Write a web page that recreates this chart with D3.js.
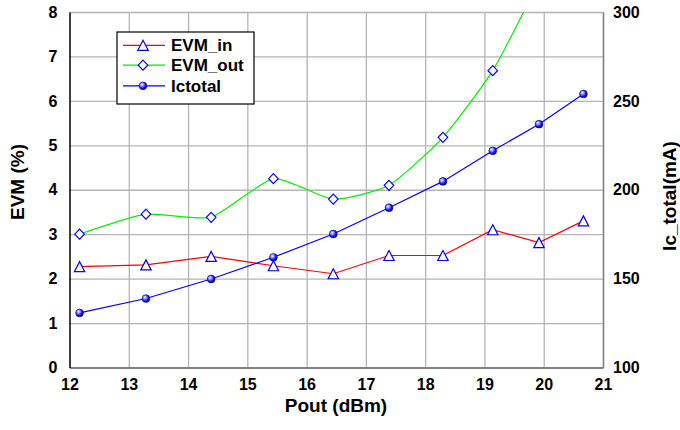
<!DOCTYPE html>
<html><head><meta charset="utf-8">
<script src="https://cdn.jsdelivr.net/npm/d3@7"></script>
<style>
body{margin:0;background:#fff}
svg{display:block}
text{font-family:"Liberation Sans",Arial,Helvetica,sans-serif;font-weight:bold;fill:#000}
</style>
</head><body>
<svg id="c" width="680" height="430"></svg>
<script>
// ---- data ----
const pout    = [12.17, 13.29, 14.39, 15.44, 16.45, 17.39, 18.30, 19.14, 19.92, 20.67];
const evmIn   = [2.27, 2.31, 2.50, 2.29, 2.11, 2.52, 2.52, 3.10, 2.81, 3.30];
const evmOut  = [3.00, 3.45, 3.38, 4.25, 3.79, 4.10, 5.18, 6.68, 8.70, 11.00];
const icTotal = [130.7, 138.8, 149.8, 162.0, 175.1, 189.9, 204.7, 221.9, 236.9, 253.9];
const xTicks  = [12, 13, 14, 15, 16, 17, 18, 19, 20, 21];
const yTicks  = [0, 1, 2, 3, 4, 5, 6, 7, 8];
const y2Ticks = [100, 150, 200, 250, 300];
const seriesNames = ["EVM_in", "EVM_out", "Ictotal"];

// ---- layout ----
const L = 69.5, R = 603, T = 12, B = 367.5;
const svg = d3.select("#c");
const x  = d3.scaleLinear().domain([12, 21]).range([L, R]);
const y  = d3.scaleLinear().domain([0, 8]).range([B, T]);
const y2 = d3.scaleLinear().domain([100, 300]).range([B, T]);

const defs = svg.append("defs");
defs.append("clipPath").attr("id", "clip")
  .append("rect").attr("x", L).attr("y", T).attr("width", R - L).attr("height", B - T);
const grad = defs.append("radialGradient").attr("id", "ball")
  .attr("cx", "40%").attr("cy", "40%").attr("r", "60%").attr("fx", "35%").attr("fy", "32%");
grad.append("stop").attr("offset", "0%").attr("stop-color", "#ffffff");
grad.append("stop").attr("offset", "30%").attr("stop-color", "#a0a0ff");
grad.append("stop").attr("offset", "70%").attr("stop-color", "#1818f0");
grad.append("stop").attr("offset", "100%").attr("stop-color", "#0000a0");

// ---- gridlines ----
const gridColor = "#b4b4b4";
svg.append("g").attr("transform", `translate(0,${B})`)
  .call(d3.axisBottom(x).tickValues(xTicks.slice(1)).tickSize(-(B - T)).tickFormat(""))
  .call(g => { g.select(".domain").remove(); g.selectAll("line").attr("stroke", gridColor).attr("stroke-width", 1.3); });
svg.append("g").attr("transform", `translate(${L},0)`)
  .call(d3.axisLeft(y).tickValues(yTicks.slice(1)).tickSize(-(R - L)).tickFormat(""))
  .call(g => { g.select(".domain").remove(); g.selectAll("line").attr("stroke", gridColor).attr("stroke-width", 1.3); });

// ---- axes ----
const fs = "16px";
svg.append("g").attr("transform", `translate(0,${B})`)
  .call(d3.axisBottom(x).tickValues(xTicks).tickSize(0).tickPadding(11).tickFormat(d3.format("d")))
  .call(g => { g.select(".domain").attr("stroke", "#808080").attr("stroke-width", 2);
               g.selectAll("text").style("font-size", fs).attr("font-family", null); });
svg.append("g").attr("transform", `translate(${L},0)`)
  .call(d3.axisLeft(y).tickValues(yTicks).tickSize(0).tickPadding(12).tickFormat(d3.format("d")))
  .call(g => { g.select(".domain").attr("stroke", "#000").attr("stroke-width", 1.5);
               g.selectAll("text").style("font-size", fs).attr("font-family", null); });
svg.append("g").attr("transform", `translate(${R},0)`)
  .call(d3.axisRight(y2).tickValues(y2Ticks).tickSize(0).tickPadding(10).tickFormat(d3.format("d")))
  .call(g => { g.select(".domain").attr("stroke", "#808080").attr("stroke-width", 1.5);
               g.selectAll("text").style("font-size", fs).attr("font-family", null); });

// ---- axis titles ----
svg.append("text").attr("transform", "translate(23.5,182) rotate(-90)")
  .attr("text-anchor", "middle").style("font-size", "19px").text("EVM (%)");
svg.append("text").attr("x", 336).attr("y", 411.5)
  .attr("text-anchor", "middle").style("font-size", "19px").text("Pout (dBm)");
svg.append("text").attr("transform", "translate(675.5,196) rotate(-90)")
  .attr("text-anchor", "middle").style("font-size", "19px").text("Ic_total(mA)");

// ---- markers ----
const tri = "M0,-5L5.2,5L-5.2,5Z";
const dia = "M0,-5L4.8,0L0,5L-4.8,0Z";
function marker(g, type) {
  if (type === 0) g.append("path").attr("d", tri).attr("fill", "#fff").attr("stroke", "#0000ff").attr("stroke-width", 1.2);
  else if (type === 1) g.append("path").attr("d", dia).attr("fill", "#fff").attr("stroke", "#0000ff").attr("stroke-width", 1.2);
  else g.append("circle").attr("r", 3.9).attr("fill", "url(#ball)").attr("stroke", "#0000b0").attr("stroke-width", 0.6);
}

// ---- series ----
const plot = svg.append("g").attr("clip-path", "url(#clip)");
const sIn  = pout.map((p, i) => [x(p), y(evmIn[i])]);
const sOut = pout.map((p, i) => [x(p), y(evmOut[i])]);
const sIc  = pout.map((p, i) => [x(p), y2(icTotal[i])]);
const colors = ["#ff0000", "#00ee00", "#0000ff"];
plot.append("path").attr("d", d3.line()(sIn)).attr("fill", "none").attr("stroke", colors[0]).attr("stroke-width", 1.2);
plot.append("path").attr("d", d3.line().curve(d3.curveCardinal.tension(0.45))(sOut)).attr("fill", "none").attr("stroke", colors[1]).attr("stroke-width", 1.2);
plot.append("path").attr("d", d3.line()(sIc)).attr("fill", "none").attr("stroke", colors[2]).attr("stroke-width", 1.2);

[sIn, sOut, sIc].forEach((s, k) => {
  s.forEach(pt => {
    const g = plot.append("g").attr("transform", `translate(${pt[0]},${pt[1]})`);
    marker(g, k);
  });
});

// ---- legend ----
const lg = svg.append("g");
lg.append("rect").attr("x", 117).attr("y", 32).attr("width", 137).attr("height", 72)
  .attr("fill", "#fff").attr("stroke", "#000").attr("stroke-width", 1.2);
const rows = [45.3, 65.2, 85.8];
seriesNames.forEach((n, k) => {
  lg.append("line").attr("x1", 123).attr("x2", 165).attr("y1", rows[k]).attr("y2", rows[k])
    .attr("stroke", colors[k]).attr("stroke-width", 1.2);
  marker(lg.append("g").attr("transform", `translate(143,${rows[k]})`), k);
  lg.append("text").attr("x", 171).attr("y", rows[k]).attr("dy", "0.36em")
    .style("font-size", "17px").text(n);
});
</script>
</body></html>
